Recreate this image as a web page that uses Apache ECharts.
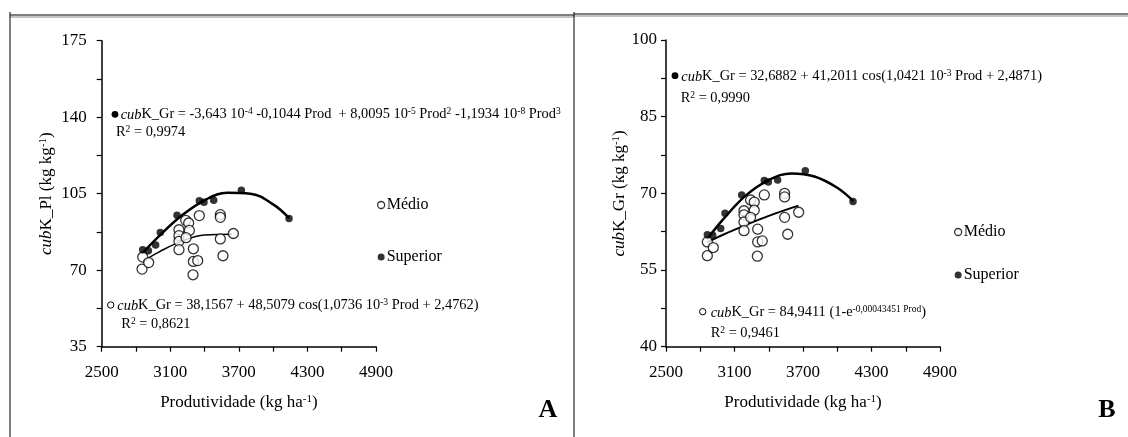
<!DOCTYPE html>
<html>
<head>
<meta charset="utf-8">
<script src="https://cdn.jsdelivr.net/npm/echarts@6.0.0/dist/echarts.min.js"></script>
<style>
html,body{margin:0;padding:0;background:#fff;}
#chart{width:1128px;height:437px;}
</style>
</head>
<body>
<div id="chart"></div>
<script>
// ---- tick labels ----
const xTickValues = [2500, 2800, 3100, 3400, 3700, 4000, 4300, 4600, 4900];
const xLabelValues = [2500, 3100, 3700, 4300, 4900];
const yTickValuesA = [35, 52.5, 70, 87.5, 105, 122.5, 140, 157.5, 175];
const yLabelValuesA = [35, 70, 105, 140, 175];
const yTickValuesB = [40, 47.5, 55, 62.5, 70, 77.5, 85, 92.5, 100];
const yLabelValuesB = [40, 55, 70, 85, 100];

// ---- panel A (cubK_Pl) ----
const superiorA = [[2859,79.4],[2908,78.9],[2972,81.5],[3013,87.3],[3159,95.1],[3354,101.8],[3395,101.1],[3480,102.0],[3722,106.6],[4139,93.7]];
const medioA = [[2859,76.0],[2853,70.5],[2911,73.5],[3176,88.5],[3176,85.8],[3176,83.2],[3176,79.4],[3235,92.8],[3261,91.6],[3267,88.2],[3238,84.9],[3354,95.0],[3302,79.8],[3302,74.0],[3340,74.4],[3299,67.9],[3538,95.4],[3538,94.2],[3538,84.3],[3561,76.6],[3652,86.8]];
const fitSuperiorA = [[2860,78.0],[3000,85.5],[3200,95.0],[3400,102.0],[3600,105.4],[3800,105.0],[4000,100.1],[4140,93.8]];
const fitMedioA = [[2860,74.1],[3000,78.3],[3200,83.3],[3400,86.1],[3640,86.4]];

// ---- panel B (cubK_Gr) ----
const superiorB = [[2862,61.9],[2909,61.8],[2979,63.1],[3017,66.1],[3163,69.7],[3361,72.5],[3396,72.2],[3478,72.6],[3720,74.4],[4138,68.4]];
const medioB = [[2862,60.5],[2862,57.8],[2914,59.4],[3183,66.6],[3183,65.8],[3183,64.4],[3183,62.7],[3241,68.7],[3273,68.3],[3273,66.7],[3241,65.3],[3361,69.7],[3303,63.0],[3303,60.5],[3343,60.7],[3300,57.7],[3539,70.0],[3539,69.3],[3539,65.3],[3566,62.0],[3662,66.3]];
const fitSuperiorB = [[2860,61.0],[3000,64.9],[3200,69.6],[3400,72.6],[3600,73.9],[3800,73.3],[4000,71.1],[4140,68.5]];
const fitMedioB = [[2860,60.4],[3000,61.9],[3200,63.8],[3400,65.6],[3660,67.6]];

// ---- texts ----
const eqSupA = '{i|cub}K_Gr = -3,643 10{s|-4} -0,1044 Prod  + 8,0095 10{s|-5} Prod{s|2} -1,1934 10{s|-8} Prod{s|3}';
const r2SupA = 'R{s|2} = 0,9974';
const eqMedA = '{i|cub}K_Gr = 38,1567 + 48,5079 cos(1,0736 10{s|-3} Prod + 2,4762)';
const r2MedA = 'R{s|2} = 0,8621';
const eqSupB = '{i|cub}K_Gr = 32,6882 + 41,2011 cos(1,0421 10{s|-3} Prod + 2,4871)';
const r2SupB = 'R{s|2} = 0,9990';
const eqMedB = '{i|cub}K_Gr = 84,9411 (1-e{s|-0,00043451 Prod})';
const r2MedB = 'R{s|2} = 0,9461';

const FONT = 'Liberation Serif, Times New Roman, serif';
const EQ_SIZE = 14.4;
const chart = echarts.init(document.getElementById('chart'), null, {renderer: 'canvas'});

const eqRich = {
  i: {fontStyle: 'italic', fontSize: EQ_SIZE, fontFamily: FONT, lineHeight: 16, verticalAlign: 'bottom'},
  s: {fontSize: 9.5, fontFamily: FONT, lineHeight: 9, verticalAlign: 'top'}
};

function xAxis(gi) {
  return {
    type: 'value', gridIndex: gi, min: 2500, max: 4900,
    name: 'Produtividade (kg ha{s|-1})', nameLocation: 'middle', nameGap: 47,
    nameTextStyle: {color: '#000', fontFamily: FONT, fontSize: 17,
      rich: {s: {fontSize: 11, fontFamily: FONT, verticalAlign: 'top', lineHeight: 10}}},
    axisLine: {show: true, lineStyle: {color: '#000', width: 1.5}},
    axisTick: {show: true, length: 5, lineStyle: {color: '#000', width: 1.2}, customValues: xTickValues},
    axisLabel: {color: '#000', fontFamily: FONT, fontSize: 17, margin: 17, customValues: xLabelValues,
      formatter: function (v) { return String(v); }},
    splitLine: {show: false}
  };
}
function yAxis(gi, min, max, ticks, labels, name, gap, margin) {
  return {
    type: 'value', gridIndex: gi, min: min, max: max,
    name: name, nameLocation: 'middle', nameGap: gap, nameRotate: 90,
    nameTextStyle: {color: '#000', fontFamily: FONT, fontSize: 17,
      rich: {i: {fontStyle: 'italic', fontFamily: FONT, fontSize: 17},
             s: {fontSize: 11, fontFamily: FONT, verticalAlign: 'top', lineHeight: 10}}},
    axisLine: {show: true, lineStyle: {color: '#000', width: 1.5}},
    axisTick: {show: true, length: 5, lineStyle: {color: '#000', width: 1.2}, customValues: ticks},
    axisLabel: {color: '#000', fontFamily: FONT, fontSize: 17, margin: margin, customValues: labels,
      formatter: function (v) { return String(v); }},
    splitLine: {show: false}
  };
}
function scatter(name, data, xi, open) {
  return {
    type: 'scatter', name: name, xAxisIndex: xi, yAxisIndex: xi, data: data, z: 5,
    symbol: 'circle', symbolSize: open ? 10 : 7.5,
    itemStyle: open ? {color: '#fff', borderColor: '#000', borderWidth: 1.3}
                    : {color: '#000', borderColor: '#000', borderWidth: 0}
  };
}
function fit(data, xi, w) {
  return {
    type: 'line', xAxisIndex: xi, yAxisIndex: xi, data: data, smooth: 0.4,
    showSymbol: false, symbol: 'none', z: 3, silent: true,
    lineStyle: {color: '#000', width: w}
  };
}
function eqText(x, y, text) {
  return {type: 'text', x: x, y: y, z: 10,
    style: {text: text, fill: '#000', font: EQ_SIZE + 'px ' + FONT, fontSize: EQ_SIZE, fontFamily: FONT,
      verticalAlign: 'middle', align: 'left', lineHeight: 16, rich: eqRich}};
}
function dot(x, y, open) {
  return {type: 'circle', z: 10, shape: {cx: x, cy: y, r: open ? 3.2 : 3.4},
    style: open ? {fill: '#fff', stroke: '#000', lineWidth: 1} : {fill: '#000'}};
}
function hline(x1, x2, y, color) {
  return {type: 'line', z: 10, shape: {x1: x1, y1: y, x2: x2, y2: y}, style: {stroke: color, lineWidth: 1}};
}
function vline(x, y1, y2) {
  return {type: 'line', z: 10, shape: {x1: x, y1: y1, x2: x, y2: y2}, style: {stroke: '#000', lineWidth: 1}};
}
function legend(left, top, gap) {
  return {
    orient: 'vertical', left: left, top: top, itemGap: gap, padding: 0,
    itemWidth: 7, itemHeight: 7, selectedMode: false,
    textStyle: {color: '#000', fontFamily: FONT, fontSize: 16, lineHeight: 16, padding: [0, 0, 0, -3]},
    data: [
      {name: 'Médio', icon: 'circle', itemStyle: {color: '#fff', borderColor: '#000', borderWidth: 1.3}},
      {name: 'Superior', icon: 'circle', itemStyle: {color: '#000', borderWidth: 0}}
    ]
  };
}

const option = {
  backgroundColor: '#fff',
  animation: false,
  grid: [
    {left: 101.7, top: 40.7, width: 274.3, height: 306},
    {left: 666, top: 40, width: 274, height: 306.7}
  ],
  xAxis: [xAxis(0), xAxis(1)],
  yAxis: [
    yAxis(0, 35, 175, yTickValuesA, yLabelValuesA, '{i|cub}K_Pl (kg kg{s|-1})', 47, 15),
    yAxis(1, 40, 100, yTickValuesB, yLabelValuesB, '{i|cub}K_Gr (kg kg{s|-1})', 36, 9)
  ],
  legend: [legend(377, 197, 36), legend(954, 224, 27)],
  series: [
    fit(fitSuperiorA, 0, 2.5),
    fit(fitMedioA, 0, 1.5),
    scatter('Médio', medioA, 0, true),
    scatter('Superior', superiorA, 0, false),
    fit(fitSuperiorB, 1, 2.5),
    fit(fitMedioB, 1, 2),
    scatter('Médio', medioB, 1, true),
    scatter('Superior', superiorB, 1, false)
  ],
  graphic: [
    hline(10, 574, 15, '#000'), hline(10, 574, 17, '#888'),
    hline(574, 1128, 14, '#000'), hline(574, 1128, 16, '#888'),
    vline(10, 12, 437), vline(574, 12, 437),
    dot(115, 114.3, false), eqText(120.7, 114, eqSupA), eqText(116, 132, r2SupA),
    dot(110.7, 305, true), eqText(117.3, 305, eqMedA), eqText(121.3, 324, r2MedA),
    dot(675, 75.7, false), eqText(681.3, 76, eqSupB), eqText(680.7, 98, r2SupB),
    dot(702.7, 311.7, true), eqText(710.7, 312, eqMedB), eqText(710.7, 333, r2MedB),
    {type: 'text', x: 548, y: 410, z: 10, style: {text: 'A', fill: '#000', font: 'bold 26px ' + FONT, align: 'center', verticalAlign: 'middle'}},
    {type: 'text', x: 1107, y: 410, z: 10, style: {text: 'B', fill: '#000', font: 'bold 26px ' + FONT, align: 'center', verticalAlign: 'middle'}}
  ]
};
chart.setOption(option);
</script>
</body>
</html>
